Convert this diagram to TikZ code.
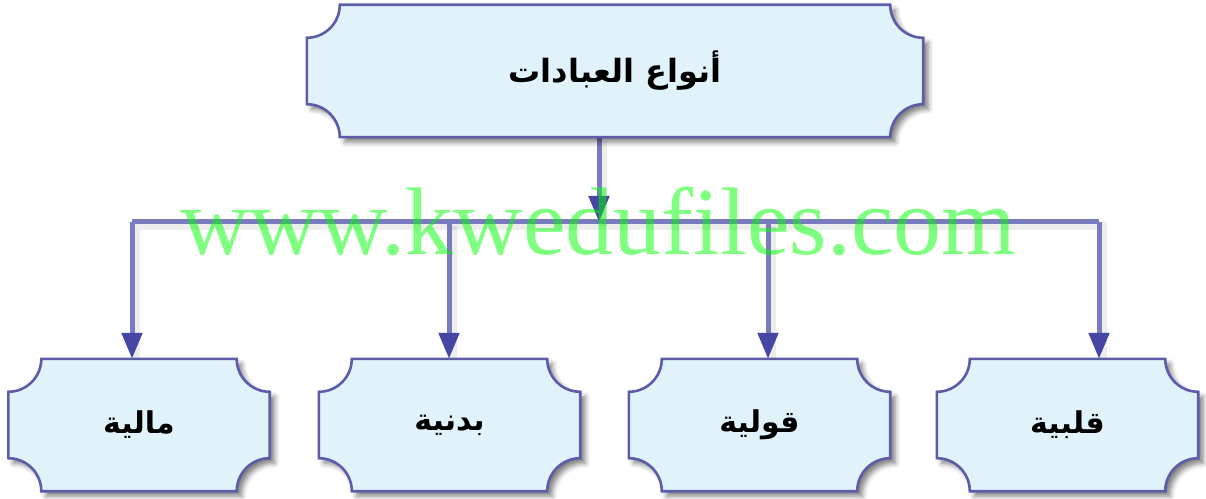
\documentclass[tikz,border=0pt]{standalone}
\usepackage{fontspec}
\setmainfont{Liberation Serif}
\newfontfamily\arabicfont[Script=Arabic]{DejaVu Sans}
\TeXXeTstate=1
\usetikzlibrary{arrows.meta,calc,shadows.blur}
\pgfdeclarelayer{background}
\pgfsetlayers{background,main}
\definecolor{boxfill}{RGB}{224,242,250}
\definecolor{boxline}{RGB}{92,92,170}
\definecolor{connline}{RGB}{122,122,190}
\definecolor{tipcol}{RGB}{70,70,165}
\newcommand{\cornr}{33}
\newcommand{\concavebox}[1]{%
  \path[boxshape] ($(#1.north east)+(-\cornr,0)$) arc[start angle=180,end angle=270,radius=\cornr]
   -- ($(#1.south east)+(0,\cornr)$) arc[start angle=90,end angle=180,radius=\cornr]
   -- ($(#1.south west)+(\cornr,0)$) arc[start angle=0,end angle=90,radius=\cornr]
   -- ($(#1.north west)+(0,-\cornr)$) arc[start angle=270,end angle=360,radius=\cornr]
   -- cycle;}
\tikzset{
  boxshape/.style={fill=boxfill,draw=boxline,line width=2.6pt,
    blur shadow={shadow xshift=5pt,shadow yshift=-5pt,shadow blur radius=5pt,shadow opacity=50}},
  topnode/.style={minimum width=616pt,minimum height=132pt,inner sep=0pt,
    font=\arabicfont\bfseries\fontsize{32}{38}\selectfont},
  leafnode/.style={minimum width=261pt,minimum height=132pt,inner sep=0pt,
    font=\arabicfont\bfseries\fontsize{30}{36}\selectfont},
  connshadow/.style={line width=8pt,black,opacity=0.07,transform canvas={xshift=4pt,yshift=-4pt}},
  conn/.style={line width=5pt,connline},
  connarrow/.style={conn,-{Triangle[length=26pt,width=20pt,color=tipcol]}},
  watermark/.style={font=\fontsize{96}{100}\selectfont,text=green,text opacity=0.5,anchor=base west,inner sep=0pt}
}
\begin{document}
\begin{tikzpicture}[x=1pt,y=1pt]
\useasboundingbox (0,0) rectangle (1206,498);
% nodes
\node[topnode] (top) at (615,427) {\raisebox{-6pt}{\beginR أنواع العبادات\endR}};
\node[leafnode] (m1) at (139,73) {\raisebox{-3pt}{\beginR مالية\endR}};
\node[leafnode] (m2) at (449.5,73) {\raisebox{-3pt}{\beginR بدنية\endR}};
\node[leafnode] (m3) at (759.5,73) {\raisebox{-3pt}{\beginR قولية\endR}};
\node[leafnode] (m4) at (1067.5,73) {\raisebox{-3pt}{\beginR قلبية\endR}};
% bus coordinates
\coordinate (j) at (599,276);
\coordinate (b1) at (132,276);
\coordinate (b2) at (449,276);
\coordinate (b3) at (768,276);
\coordinate (b4) at (1099,276);
\begin{pgfonlayer}{background}
  % connector shadows
  \draw[connshadow] (top.south -| j) -- (j);
  \draw[connshadow] (b1 |- m1.north) -- (b1) -- (b4) -- (b4 |- m4.north);
  \draw[connshadow] (b2) -- (b2 |- m2.north);
  \draw[connshadow] (b3) -- (b3 |- m3.north);
  % connectors
  \draw[conn] (b1) -- (b4);
  \draw[connarrow] (top.south -| j) -- (j);
  \draw[connarrow] (b1) -- (b1 |- m1.north);
  \draw[connarrow] (b2) -- (b2 |- m2.north);
  \draw[connarrow] (b3) -- (b3 |- m3.north);
  \draw[connarrow] (b4) -- (b4 |- m4.north);
  % boxes
  \concavebox{top}
  \concavebox{m1}
  \concavebox{m2}
  \concavebox{m3}
  \concavebox{m4}
\end{pgfonlayer}
\node[watermark] (wm) at (180,243) {www.kwedufiles.com};
\end{tikzpicture}
\end{document}
